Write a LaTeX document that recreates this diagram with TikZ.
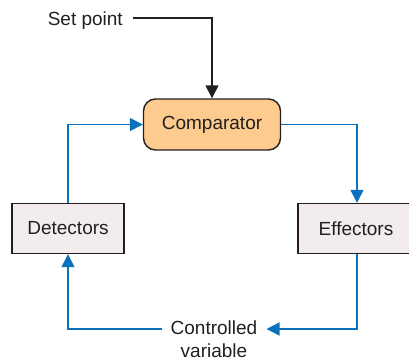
\documentclass[tikz,border=0pt]{standalone}
\usepackage{fontspec}
\setmainfont{Liberation Sans}
\usetikzlibrary{arrows.meta,calc}
\definecolor{ink}{HTML}{231F20}
\definecolor{loopblue}{HTML}{0A71BC}
\definecolor{cmpfill}{HTML}{FDCB8E}
\definecolor{boxfill}{HTML}{F2ECEC}
\begin{document}
\begin{tikzpicture}[x=1pt,y=-1pt,
  every node/.style={font=\fontsize{19}{23}\selectfont, text=ink},
  txt/.style={inner sep=9pt, align=center},
  cmpbox/.style={draw=ink, line width=1.4pt, fill=cmpfill, rounded corners=12pt,
    minimum width=137pt, minimum height=51pt, inner sep=0pt},
  unitbox/.style={draw=ink, line width=1.4pt, fill=boxfill,
    minimum width=112pt, minimum height=50pt, inner sep=0pt},
  tip/.style={-{Triangle[length=13pt,width=13pt]}},
  blueflow/.style={tip, draw=loopblue, line width=1.4pt},
  blackflow/.style={tip, draw=ink, line width=1.4pt}]
\useasboundingbox (0,0) rectangle (409,362);
% blocks of the loop
\node[cmpbox] (cmp) at (212,124.5) {Comparator};
\node[unitbox] (det) at (68,228.5) {Detectors};
\node[unitbox, minimum width=116pt] (eff) at (356,228.5) {Effectors};
% free texts
\node[txt, anchor=east, inner sep=10pt] (sp) at (133,21) {Set point};
\node[txt, anchor=north] (cv) at (214,312) {Controlled\\variable};
\coordinate (cvlevel) at (0,329);
% set point into the comparator
\draw[blackflow] ([yshift=3pt]sp.east) -| (cmp.north);
% feedback loop
\draw[blueflow] (cmp.east) -| ([xshift=1pt]eff.north);
\draw[blueflow] ([xshift=1pt]eff.south) |- (cv.east |- cvlevel);
\draw[blueflow] (cv.west |- cvlevel) -| (det.south);
\draw[blueflow] (det.north) |- (cmp.west);
\end{tikzpicture}
\end{document}
